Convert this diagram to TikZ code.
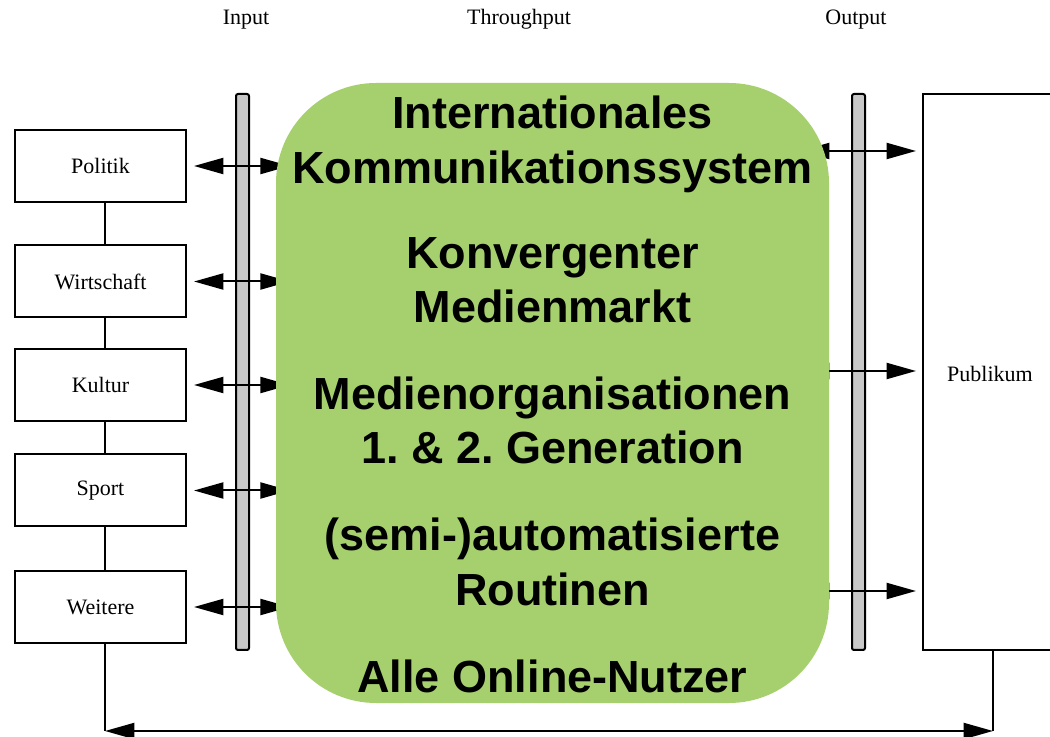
\documentclass[tikz,border=0pt]{standalone}
\usepackage{fontspec}
\setmainfont{Liberation Serif}
\newfontfamily\headfont{Liberation Sans}
\usetikzlibrary{arrows.meta}
\definecolor{sysgreen}{HTML}{A6D06E}
\definecolor{bargray}{HTML}{C8C8C8}
\tikzset{
  lbl/.style={font=\fontsize{16.5pt}{19pt}\selectfont, inner sep=0pt},
  area/.style={draw, line width=1.5pt, fill=white, minimum width=128.25pt, minimum height=54pt, lbl},
  bar/.style={draw, line width=1.5pt, fill=bargray, rounded corners=1.5pt, minimum width=9.75pt, minimum height=417pt, inner sep=0pt},
  flow/.style={line width=1.5pt, {Triangle[length=22pt,width=12pt]}-{Triangle[length=22pt,width=12pt]}},
  link/.style={line width=1.5pt},
  big/.style={font=\headfont\bfseries\fontsize{33.75pt}{40pt}\selectfont, inner sep=0pt, anchor=base}
}
\begin{document}
\frenchspacing
\begin{tikzpicture}[x=0.75pt, y=-0.75pt]
\useasboundingbox (0,0) rectangle (1050,737);
\clip (0,0) rectangle (1050,737);

% column headings
\node[lbl] (hin) at (246,19.5) {Input};
\node[lbl] (hthru) at (519,19.5) {Throughput};
\node[lbl] (hout) at (856,19.5) {Output};

% societal subsystems
\node[area] (politik) at (100.5,166) {Politik};
\node[area] (wirtschaft) at (100.5,281.5) {Wirtschaft};
\node[area] (kultur) at (100.5,385) {Kultur};
\node[area] (sport) at (100.5,490.5) {Sport};
\node[area] (weitere) at (100.5,607) {Weitere};

\draw[link] ([xshift=3.375pt]politik.south) -- ([xshift=3.375pt]wirtschaft.north);
\draw[link] ([xshift=3.375pt]wirtschaft.south) -- ([xshift=3.375pt]kultur.north);
\draw[link] ([xshift=3.375pt]kultur.south) -- ([xshift=3.375pt]sport.north);
\draw[link] ([xshift=3.375pt]sport.south) -- ([xshift=3.375pt]weitere.north);

% audience
\node[draw, line width=1.5pt, fill=white, minimum width=105pt, minimum height=417pt, inner sep=0pt] (pub) at (993,372) {};
\node[lbl] (publabel) at (990,374) {Publikum};

% input / output bars
\node[bar] (inbar) at (242.5,372) {};
\node[bar] (outbar) at (858.5,372) {};

% system area (the green box is drawn later and covers the inner arrow ends)
\path (552.5,393) node[minimum width=414.75pt, minimum height=465pt, inner sep=0pt] (sys) {};

% input arrows
\foreach \n in {politik,wirtschaft,kultur,sport,weitere}{
  \draw[flow, shorten <=5.25pt, shorten >=-10.5pt] (\n.east) -- (\n.east -| sys.west);
}

% output arrows
\coordinate (o1) at (829,151);
\coordinate (o2) at (829,371);
\coordinate (o3) at (829,591);
\draw[flow, shorten <=-21.75pt, shorten >=4.5pt] (o1) -- (o1 -| pub.west);
\draw[flow, shorten <=-21.75pt, shorten >=4.5pt] (o2) -- (o2 -| pub.west);
\draw[flow, shorten <=-21.75pt, shorten >=4.5pt] (o3) -- (o3 -| pub.west);

% feedback loop
\coordinate (bl) at (105,731);
\coordinate (br) at (993,731);
\draw[link] ([xshift=3.375pt]weitere.south) -- (bl);
\draw[link] (pub.south) -- (br);
\draw[flow] (bl) -- (br);

% system box
\node[fill=sysgreen, rounded corners=75pt, minimum width=414.75pt, minimum height=465pt, inner sep=0pt] (sysbox) at (sys.center) {};

\node[big] (t1) at (552.5,129) {Internationales};
\node[big] (t2) at (552.5,184) {Kommunikationssystem};
\node[big] (t3) at (552.5,269) {Konvergenter};
\node[big] (t4) at (552.5,323) {Medienmarkt};
\node[big] (t5) at (552.5,410) {Medienorganisationen};
\node[big] (t6) at (552.5,464) {1. \& 2. Generation};
\node[big] (t7) at (552.5,551) {(semi-)automatisierte};
\node[big] (t8) at (552.5,605) {Routinen};
\node[big] (t9) at (552.5,692) {Alle Online-Nutzer};
\end{tikzpicture}
\end{document}
